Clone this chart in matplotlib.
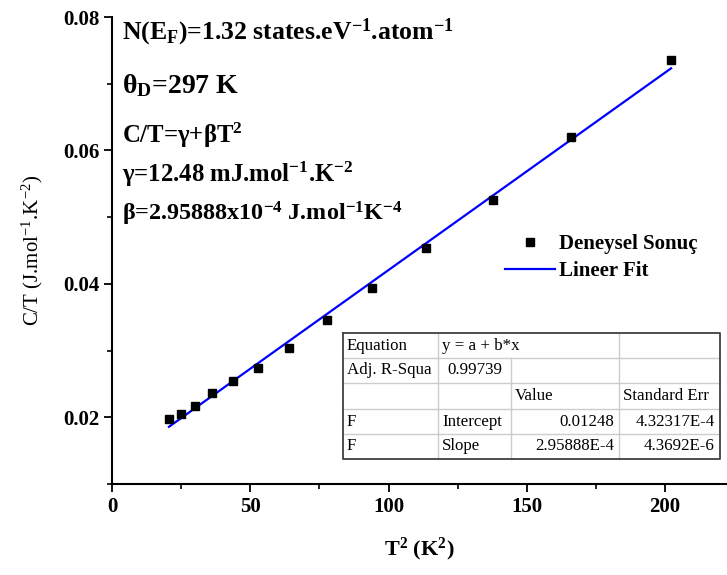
import matplotlib
matplotlib.use("Agg")
import matplotlib.pyplot as plt
from matplotlib.lines import Line2D
from matplotlib.patches import Rectangle
from matplotlib.ticker import MultipleLocator

# Measured specific heat, C/T against T^2
t_squared = [20.6, 24.8, 30.0, 36.2, 43.9, 52.9, 64.1, 77.6, 93.9, 113.6, 137.7, 166.0, 202.2]
c_over_t = [0.01975, 0.02045, 0.02165, 0.02365, 0.02537, 0.02737, 0.03033,
            0.03454, 0.03944, 0.04541, 0.05259, 0.06206, 0.07349]

# Linear fit C/T = gamma + beta*T^2
intercept = 0.01248
slope = 2.95888e-4

annotations = [
    'N(E$_F$)=1.32 states.eV$^{-1}$.atom$^{-1}$',
    'θ$_D$=297 K',
    'C/T=γ+βT$^2$',
    'γ=12.48 mJ.mol$^{-1}$.K$^{-2}$',
    'β=2.95888x10$^{-4}$ J.mol$^{-1}$K$^{-4}$',
]

# Fit summary table
table_rows = [
    ['Equation', 'y = a + b*x', '', ''],
    ['Adj. R-Squa', '0.99739', '', ''],
    ['', '', 'Value', 'Standard Err'],
    ['F', 'Intercept', '0.01248', '4.32317E-4'],
    ['F', 'Slope', '2.95888E-4', '4.3692E-6'],
]

W, H = 727, 575
plt.rcParams['font.family'] = ['Liberation Serif', 'DejaVu Serif']
plt.rcParams['mathtext.default'] = 'regular'

fig = plt.figure(figsize=(W / 100, H / 100), dpi=100)


def px(x, y):
    """Pixel position (from top-left) to figure fraction."""
    return x / W, 1 - y / H


ax_l, ax_r, ax_t, ax_b = 112, 727, 17, 484
ax = fig.add_axes([ax_l / W, 1 - ax_b / H, (ax_r - ax_l) / W, (ax_b - ax_t) / H])

x_fit = [t_squared[0], t_squared[-1]]
y_fit = [intercept + slope * x for x in x_fit]

ax.plot(t_squared, c_over_t, 's', color='black', markersize=6.4, label='Deneysel Sonuç', zorder=3)
ax.plot(x_fit, y_fit, '-', color='#0000ff', lw=1.6, label='Lineer Fit', zorder=2)

ax.set_xlim(0, (ax_r - ax_l) / 2.765)
ax.set_ylim(0.01, 0.08)
ax.xaxis.set_major_locator(MultipleLocator(50))
ax.xaxis.set_minor_locator(MultipleLocator(25))
ax.yaxis.set_major_locator(MultipleLocator(0.02))
ax.yaxis.set_minor_locator(MultipleLocator(0.01))
ax.set_yticks([0.02, 0.04, 0.06, 0.08])

for side in ('top', 'right'):
    ax.spines[side].set_visible(False)
for side in ('left', 'bottom'):
    ax.spines[side].set_linewidth(1.5)

ax.tick_params(which='major', direction='out', length=6, width=1.3, pad=3, labelsize=15)
ax.tick_params(which='minor', direction='out', length=3.5, width=1.2)
for lab in ax.get_xticklabels() + ax.get_yticklabels():
    lab.set_fontweight('bold')

ax.set_xlabel('T$^2$ (K$^2$)', fontsize=16, fontweight='bold', labelpad=14)
ax.set_ylabel('C/T (J.mol$^{-1}$.K$^{-2}$)', fontsize=15, labelpad=13)

leg = ax.legend(loc='upper left', bbox_to_anchor=px(505, 234), bbox_transform=fig.transFigure,
                frameon=False, handlelength=2.4, handletextpad=0.2, labelspacing=0.35,
                borderaxespad=0, borderpad=0,
                prop={'family': 'Liberation Serif', 'weight': 'bold', 'size': 15})

# Parameter annotations
anno_base = [39, 93, 143, 182, 220]
anno_size = [18.5, 20, 17.8, 17.8, 17.4]
for txt, yb, fs in zip(annotations, anno_base, anno_size):
    fig.text(*px(122, yb), txt, fontsize=fs, fontweight='bold', va='baseline', ha='left')

# Table
col_x = [343, 438, 511, 619, 720]
row_y = [333, 358, 383, 409, 434, 459]
fig.patches.append(Rectangle(px(col_x[0], row_y[-1]), (col_x[-1] - col_x[0]) / W,
                             (row_y[-1] - row_y[0]) / H, transform=fig.transFigure,
                             facecolor='white', edgecolor='none', zorder=4))
grid_kw = dict(transform=fig.transFigure, color='#cccccc', lw=1.0, zorder=5)
for y in row_y[1:-1]:
    fig.lines.append(Line2D([col_x[0] / W, col_x[-1] / W], [1 - y / H] * 2, **grid_kw))
# vertical separators; row 0 merges columns 1-2
for i, x in enumerate(col_x[1:-1], start=1):
    top = row_y[1] if i == 2 else row_y[0]
    fig.lines.append(Line2D([x / W] * 2, [1 - top / H, 1 - row_y[-1] / H], **grid_kw))
edge_kw = dict(transform=fig.transFigure, color='#404040', lw=1.3, zorder=6)
xs = [col_x[0], col_x[-1], col_x[-1], col_x[0], col_x[0]]
ys = [row_y[0], row_y[0], row_y[-1], row_y[-1], row_y[0]]
fig.lines.append(Line2D([x / W for x in xs], [1 - y / H for y in ys], **edge_kw))

for r, row in enumerate(table_rows):
    yc = (row_y[r] + row_y[r + 1]) / 2
    for c, txt in enumerate(row):
        if not txt:
            continue
        numeric = r >= 3 and c >= 2
        if r == 1 and c == 1:
            x, ha = (col_x[c] + col_x[c + 1]) / 2, 'center'
        elif numeric:
            x, ha = col_x[c + 1] - 5, 'right'
        else:
            x, ha = col_x[c] + 4, 'left'
        fig.text(*px(x, yc), txt, fontsize=12.2, ha=ha, va='center', zorder=7)

fig.savefig('out.png', dpi=100)
